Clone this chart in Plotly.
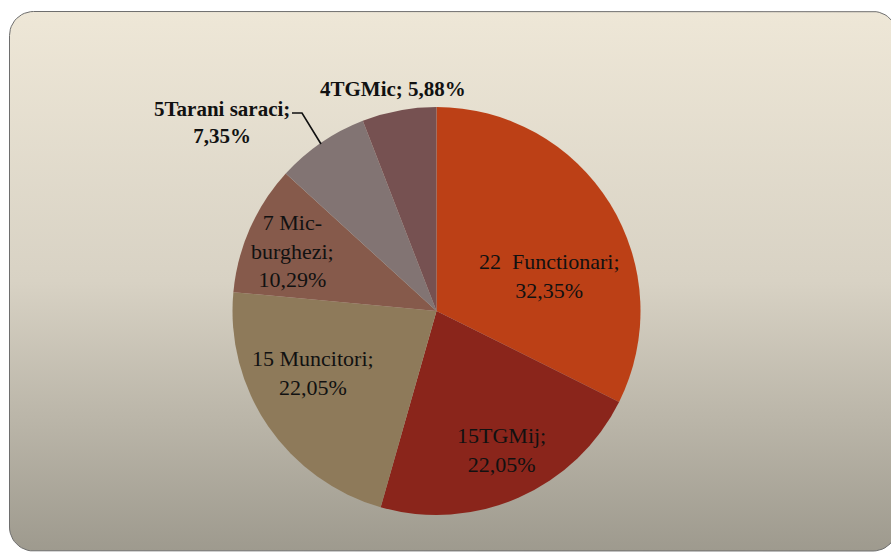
import math
import plotly.graph_objects as go

# ---- data ----
categories = ["22  Functionari", "15TGMij", "15 Muncitori", "7 Mic-burghezi", "5Tarani saraci", "4TGMic"]
values = [22, 15, 15, 7, 5, 4]
percent_labels = ["32,35%", "22,05%", "22,05%", "10,29%", "7,35%", "5,88%"]

# ---- styles / layout (not data) ----
colors = ["#BC4016", "#8A251B", "#8E7A5A", "#865A4B", "#827473", "#765151"]
label_lines = [
    "22  Functionari;<br>{p}",
    "15TGMij;<br>{p}",
    "15 Muncitori;<br>{p}",
    "7 Mic-<br>burghezi;<br>{p}",
    "5Tarani saraci;<br>{p}",
    "4TGMic; {p}",
]
label_pos = [(549, 276), (501, 450), (313, 373), (292, 251), (222, 122), (393, 89)]
label_bold = [False, False, False, False, True, True]

W, H = 891, 552
FONT = "Liberation Serif"
CX, CY, R = 436.5, 311, 204   # pie centre / radius in pixels

fig = go.Figure()

# background rounded panel with vertical gradient (decoration)
x0, y0, x1, y1, r = 9.5, 11.5, 897, 551, 24
px, py = [], []
def arc(cx, cy, a0, a1):
    for i in range(13):
        a = math.radians(a0 + (a1 - a0) * i / 12)
        px.append(cx + r * math.cos(a))
        py.append(cy + r * math.sin(a))
arc(x0 + r, y0 + r, 180, 270)
arc(x1 - r, y0 + r, 270, 360)
arc(x1 - r, y1 - r, 0, 90)
arc(x0 + r, y1 - r, 90, 180)
px.append(px[0]); py.append(py[0])
fig.add_trace(go.Scatter(
    x=px, y=py, mode="lines", fill="toself",
    line=dict(color="#6E6E6E", width=1),
    fillgradient=dict(type="vertical",
                      colorscale=[[0, "#9E9A8E"], [0.5, "#D8D2C4"], [1, "#EEE7D7"]]),
    hoverinfo="skip", showlegend=False,
))

fig.add_trace(go.Pie(
    labels=categories, values=values,
    textinfo="none",
    sort=False, direction="clockwise", rotation=0,
    marker=dict(colors=colors, line=dict(width=0)),
    domain=dict(x=[(CX - R) / W, (CX + R) / W], y=[(H - CY - R) / H, (H - CY + R) / H]),
    showlegend=False, hoverinfo="label+percent",
))

# data labels
for tpl, p, (lx, ly), b in zip(label_lines, percent_labels, label_pos, label_bold):
    t = tpl.format(p=p)
    if b:
        t = "<b>" + t + "</b>"
    fig.add_annotation(x=lx, y=ly, text=t, showarrow=False,
                       xanchor="center", yanchor="middle", align="center",
                       font=dict(family=FONT, size=21 if b else 22, color="#111111"))

# leader line for the "Tarani saraci" label
fig.add_shape(type="path", path="M 321 144 L 302 113 L 292 113",
              line=dict(color="#111111", width=1.6), layer="above")

fig.update_layout(
    width=W, height=H,
    margin=dict(l=0, r=0, t=0, b=0),
    paper_bgcolor="white", plot_bgcolor="rgba(0,0,0,0)",
    xaxis=dict(range=[0, W], visible=False, fixedrange=True),
    yaxis=dict(range=[H, 0], visible=False, fixedrange=True),
    font=dict(family=FONT),
)

fig.write_html("out.html", config={"displayModeBar": False},
               post_script="document.body.style.margin='0';")
